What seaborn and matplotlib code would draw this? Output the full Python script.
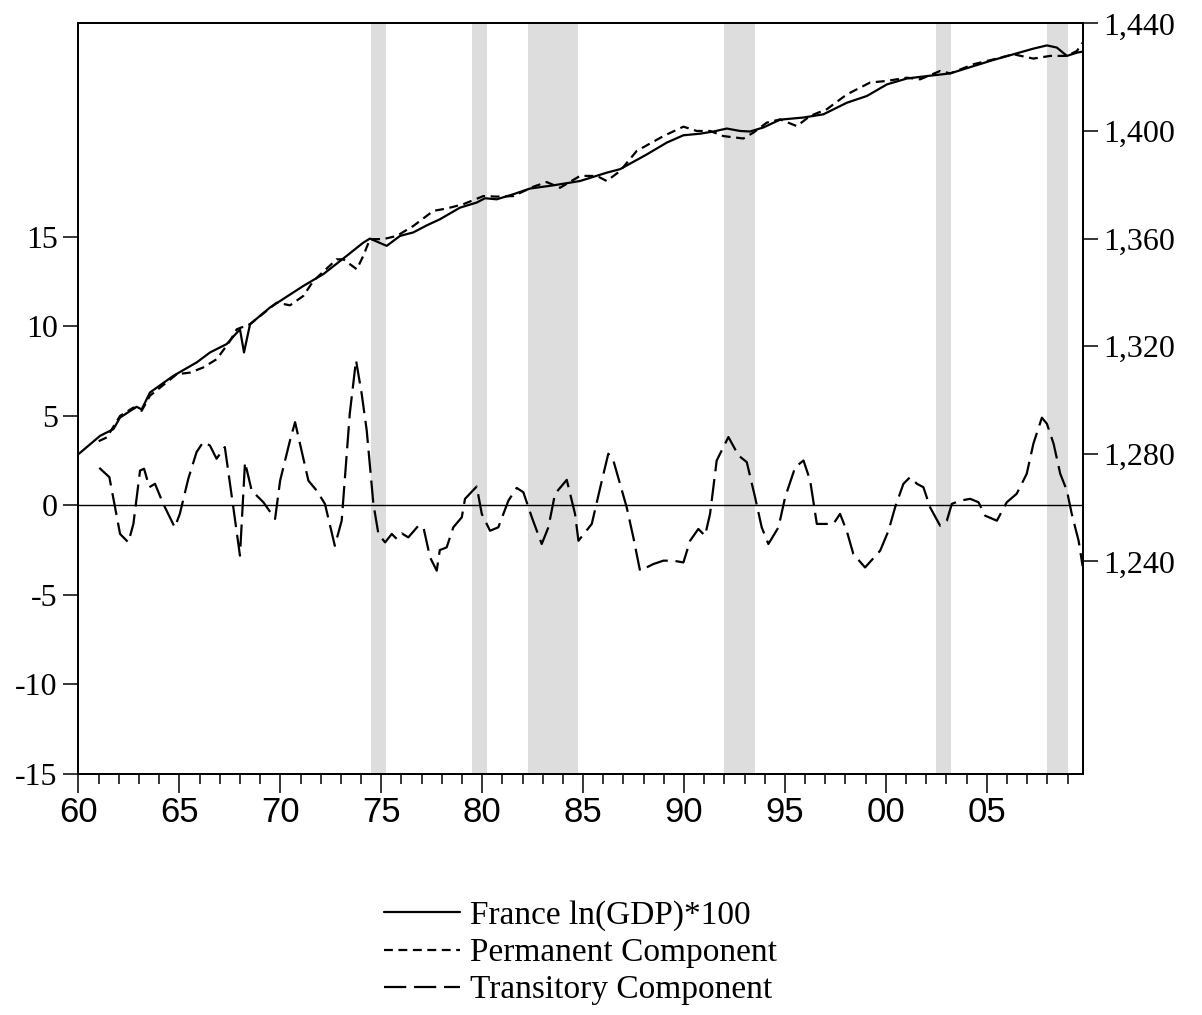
import numpy as np
import pandas as pd
import matplotlib.pyplot as plt
import seaborn as sns

sns.set_theme(style="ticks", rc={"text.color": "black", "xtick.color": "black",
                                 "ytick.color": "black", "axes.edgecolor": "black"})
plt.rcParams["font.family"] = ["Liberation Serif", "DejaVu Serif"]


# DATEN (Quartalsdaten)
gdp_date = [1960.0, 1961.07, 1961.73, 1962.06, 1962.88, 1963.13, 1963.54, 1964.70, 1965.86,
            1966.52, 1967.34, 1968.0, 1968.2, 1968.5, 1969.49, 1971.14, 1972.13, 1973.29,
            1974.11, 1974.44, 1975.27, 1975.93, 1976.59, 1977.25, 1977.91, 1978.9, 1979.73,
            1980.14, 1980.72, 1981.55, 1982.37, 1983.53, 1984.85, 1986.17, 1986.83, 1988.16,
            1989.15, 1989.97, 1990.80, 1991.46, 1992.12, 1992.78, 1993.27, 1993.93, 1994.76,
            1995.92, 1996.91, 1998.07, 1999.06, 2000.05, 2001.04, 2002.03, 2003.19, 2004.34,
            2005.33, 2006.32, 2007.31, 2007.98, 2008.47, 2008.97, 2009.46, 2009.75]
gdp_val = [1279.9, 1286.7, 1289.2, 1293.5, 1297.5, 1296.5, 1302.8, 1309.0, 1314.0,
           1317.7, 1320.8, 1326.3, 1317.7, 1328.2, 1334.4, 1342.4, 1346.8, 1353.6,
           1358.5, 1360.0, 1357.3, 1361.0, 1362.3, 1364.9, 1367.2, 1371.5, 1373.4,
           1375.0, 1374.6, 1376.5, 1378.6, 1379.8, 1381.4, 1384.5, 1385.8, 1391.3,
           1395.7, 1398.4, 1399.0, 1399.8, 1400.9, 1400.0, 1399.8, 1401.3, 1404.2,
           1405.0, 1406.2, 1410.5, 1413.0, 1417.3, 1419.5, 1420.4, 1421.4, 1424.1,
           1426.4, 1428.5, 1430.6, 1431.8, 1431.0, 1427.9, 1429.1, 1429.5]

perm_date = [1961.0, 1961.40, 1962.06, 1962.72, 1963.13, 1963.54, 1964.87, 1965.53, 1966.18,
             1966.85, 1967.51, 1967.84, 1968.5, 1969.82, 1970.48, 1971.14, 1971.64, 1972.79,
             1973.12, 1973.79, 1974.11, 1974.44, 1975.10, 1975.77, 1976.59, 1977.58, 1978.25,
             1979.07, 1980.06, 1980.72, 1981.55, 1982.54, 1983.2, 1983.86, 1984.85, 1985.68,
             1986.17, 1986.83, 1987.66, 1988.98, 1989.97, 1990.63, 1991.29, 1991.95, 1992.94,
             1993.44, 1994.10, 1994.76, 1995.59, 1996.25, 1997.08, 1998.07, 1999.22, 2000.05,
             2001.04, 2001.7, 2002.69, 2003.19, 2004.34, 2005.33, 2006.32, 2007.31, 2008.14,
             2008.97, 2009.46, 2009.75]
perm_val = [1284.7, 1286.1, 1294.1, 1297.2, 1296.0, 1301.6, 1309.6, 1310.2, 1312.1,
            1315.2, 1322.0, 1326.3, 1328.2, 1336.2, 1335.2, 1338.7, 1344.3, 1352.3,
            1352.3, 1348.6, 1353.6, 1359.8, 1359.8, 1361.0, 1364.7, 1370.3, 1371.2,
            1372.8, 1375.8, 1375.6, 1375.8, 1379.3, 1381.0, 1378.9, 1383.3, 1383.3,
            1381.4, 1385.1, 1392.6, 1398.1, 1401.6, 1400.0, 1400.0, 1398.1, 1397.2,
            1399.4, 1403.1, 1404.3, 1401.8, 1405.6, 1408.1, 1413.6, 1418.0, 1418.6,
            1419.8, 1419.2, 1422.3, 1421.4, 1424.8, 1426.6, 1428.5, 1426.9, 1427.9,
            1427.9, 1429.7, 1432.8]

trans_date = [1961.03, 1961.53, 1961.81, 1962.06, 1962.47, 1962.72, 1963.05, 1963.25, 1963.51,
              1963.79, 1964.2, 1964.77, 1965.02, 1965.44, 1965.85, 1966.18, 1966.51, 1966.84,
              1967.25, 1967.67, 1968.0, 1968.25, 1968.58, 1969.16, 1969.74, 1969.99, 1970.48,
              1970.73, 1971.39, 1971.80, 1972.21, 1972.70, 1973.04, 1973.44, 1973.75, 1974.03,
              1974.28, 1974.61, 1974.86, 1975.19, 1975.52, 1975.77, 1976.02, 1976.34, 1976.84,
              1977.09, 1977.42, 1977.75, 1977.9, 1978.24, 1978.57, 1978.99, 1979.15, 1979.73,
              1979.98, 1980.39, 1980.80, 1981.30, 1981.71, 1982.04, 1982.46, 1982.95, 1983.28,
              1983.61, 1984.19, 1984.6, 1984.77, 1985.43, 1985.93, 1986.25, 1986.5, 1987.16,
              1987.49, 1987.82, 1988.48, 1988.98, 1989.47, 1989.97, 1990.30, 1990.71, 1991.04,
              1991.29, 1991.62, 1992.2, 1992.70, 1993.11, 1993.52, 1993.85, 1994.18, 1994.68,
              1995.01, 1995.51, 1995.92, 1996.25, 1996.58, 1997.08, 1997.40, 1997.73, 1998.06,
              1998.39, 1998.97, 1999.72, 2000.13, 2000.46, 2000.87, 2001.20, 2001.54, 2001.86,
              2002.19, 2002.69, 2003.02, 2003.27, 2003.68, 2004.18, 2004.59, 2004.92, 2005.50,
              2005.99, 2006.48, 2006.98, 2007.31, 2007.73, 2007.98, 2008.31, 2008.64, 2008.97,
              2009.21, 2009.55, 2009.75]
trans_val = [2.09, 1.57, -0.11, -1.6, -2.07, -1.04, 1.94, 2.04, 1.01,
             1.2, 0.08, -1.23, -0.48, 1.48, 2.97, 3.53, 3.34, 2.6,
             3.25, -0.11, -2.81, 2.41, 0.82, 0.17, -0.76, 1.38, 3.62,
             4.64, 1.38, 0.82, 0.08, -2.26, -0.86, 5.11, 8.1, 6.23,
             4.18, 0.08, -1.6, -2.07, -1.6, -1.88, -1.57, -1.79, -1.14,
             -1.23, -2.91, -3.65, -2.5, -2.35, -1.23, -0.67, 0.36, 1.05,
             -0.48, -1.42, -1.23, 0.26, 0.97, 0.73, -0.67, -2.16, -1.23,
             0.64, 1.42, -0.48, -1.98, -1.04, 1.38, 2.88, 2.5, -0.11,
             -1.79, -3.65, -3.28, -3.09, -3.09, -3.19, -1.98, -1.32, -1.7,
             -0.48, 2.5, 3.81, 2.78, 2.41, 0.45, -1.23, -2.16, -1.23,
             0.45, 2.13, 2.5, 1.38, -1.04, -1.04, -1.04, -0.48, -1.42,
             -2.72, -3.47, -2.53, -1.42, -0.11, 1.2, 1.57, 1.2, 1.01,
             -0.11, -1.14, -0.86, 0.08, 0.26, 0.36, 0.17, -0.58, -0.86,
             0.17, 0.64, 1.76, 3.44, 4.89, 4.55, 3.44, 1.76, 0.82,
             -0.48, -1.98, -3.4]

# Rezessionen
rec_start = [1974.5, 1979.5, 1982.25, 1992.0, 2002.5, 2008.0]
rec_end = [1975.25, 1980.25, 1984.75, 1993.5, 2003.25, 2009.0]

# Achsen
left_ticks = [-15, -10, -5, 0, 5, 10, 15]
right_ticks = [1240, 1280, 1320, 1360, 1400, 1440]
right_labels = ["1,240", "1,280", "1,320", "1,360", "1,400", "1,440"]
x_ticks = [1960, 1965, 1970, 1975, 1980, 1985, 1990, 1995, 2000, 2005]
x_labels = ["60", "65", "70", "75", "80", "85", "90", "95", "00", "05"]

labels = ["France ln(GDP)*100", "Permanent Component", "Transitory Component"]


# PLOT
fig = plt.figure(figsize=(12.02, 10.15), dpi=100)
ax = fig.add_axes([0.0653, 0.2374, 0.8354, 0.7396])
ax2 = ax.twinx()

for s, e in zip(rec_start, rec_end):
    ax.axvspan(s, e, color="#dddddd", lw=0, zorder=0)
ax.axhline(0, color="black", lw=1.0, zorder=1)

sns.lineplot(x=trans_date, y=trans_val, ax=ax, color="black", lw=1.6,
             linestyle=(0, (10, 3.5)), label=labels[2])
sns.lineplot(x=gdp_date, y=gdp_val, ax=ax2, color="black", lw=1.6, label=labels[0])
sns.lineplot(x=perm_date, y=perm_val, ax=ax2, color="black", lw=1.6,
             linestyle=(0, (4, 2.5)), label=labels[1])

for a in (ax, ax2):
    if a.get_legend() is not None:
        a.get_legend().remove()

ax.set_xlim(1960, 2009.75)
ax.set_ylim(-15, 26.9)
ax2.set_ylim(1161, 1440)

ax.set_xticks(x_ticks)
ax.set_xticklabels(x_labels, family="Liberation Sans", fontsize=25)
ax.set_xticks(np.arange(1960, 2010), minor=True)
ax.set_yticks(left_ticks)
ax.set_yticklabels([str(t) for t in left_ticks], fontsize=23)
ax2.set_yticks(right_ticks)
ax2.set_yticklabels(right_labels, fontsize=23)

ax.tick_params(axis="x", which="major", direction="out", length=14, width=1.1, pad=2)
ax.tick_params(axis="x", which="minor", direction="out", length=7.5, width=1.1)
ax.tick_params(axis="y", direction="out", length=11, width=1.1, pad=4)
ax2.tick_params(axis="y", direction="out", length=11, width=1.1, pad=4)

for a in (ax, ax2):
    for sp in a.spines.values():
        sp.set_visible(True)
        sp.set_color("black")
        sp.set_linewidth(1.3)
ax.set_xlabel("")
ax.set_ylabel("")
ax2.set_ylabel("")

# Legende unten
h_gdp, h_perm = ax2.get_lines()
h_trans = [l for l in ax.get_lines() if l.get_label() == labels[2]][0]
fig.legend([h_gdp, h_perm, h_trans], labels, loc="upper center",
           bbox_to_anchor=(0.4829, 0.113), frameon=False, fontsize=24,
           handlelength=2.3, handletextpad=0.3, labelspacing=0.2,
           borderpad=0, borderaxespad=0)

fig.savefig("out.png", dpi=100)
